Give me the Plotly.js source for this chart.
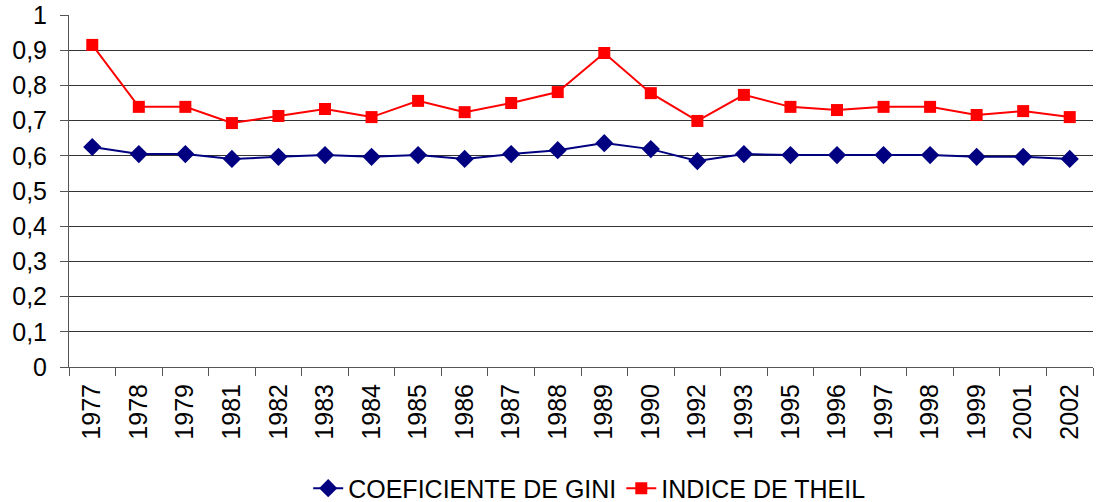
<!DOCTYPE html>
<html>
<head>
<meta charset="utf-8">
<script src="https://cdn.plot.ly/plotly-3.0.1.min.js"></script>
<style>html,body{margin:0;padding:0;background:#fff;}#chart{width:1098px;height:502px;}</style>
</head>
<body>
<div id="chart"></div>
<script>
var years = ["1977","1978","1979","1981","1982","1983","1984","1985","1986","1987","1988","1989","1990","1992","1993","1995","1996","1997","1998","1999","2001","2002"];
var gini = [0.625,0.605,0.605,0.591,0.597,0.602,0.597,0.602,0.591,0.605,0.616,0.636,0.619,0.585,0.605,0.602,0.602,0.602,0.602,0.597,0.597,0.591];
var theil = [0.915,0.739,0.739,0.693,0.713,0.733,0.710,0.756,0.724,0.750,0.781,0.892,0.778,0.699,0.773,0.739,0.730,0.739,0.739,0.716,0.727,0.710];
var yTicks = [0,0.1,0.2,0.3,0.4,0.5,0.6,0.7,0.8,0.9,1];

var traces = [
  {x: years, y: gini, type: "scatter", mode: "lines+markers", name: "COEFICIENTE DE GINI",
   line: {color: "#000080", width: 2}, marker: {symbol: "diamond", size: 14, color: "#000080"}},
  {x: years, y: theil, type: "scatter", mode: "lines+markers", name: "INDICE DE THEIL",
   line: {color: "#ff0000", width: 2}, marker: {symbol: "square", size: 12, color: "#ff0000"}}
];

var layout = {
  width: 1098, height: 502,
  margin: {l: 69, r: 5, t: 15, b: 135, autoexpand: false},
  paper_bgcolor: "#fff", plot_bgcolor: "#fff",
  separators: ",.",
  font: {family: "Liberation Sans, Arial, sans-serif", size: 25, color: "#000"},
  showlegend: true,
  legend: {orientation: "h", x: 0.508, xanchor: "center", y: -0.345, yanchor: "middle",
           font: {size: 25}, tracegroupgap: 0, bgcolor: "rgba(0,0,0,0)"},
  xaxis: {type: "category", tickangle: -90, tickson: "boundaries", ticks: "outside", ticklen: 8,
          tickcolor: "#555", showgrid: false, showline: true, linecolor: "#555", linewidth: 1,
          tickfont: {size: 25}, ticklabelstandoff: 6, range: [-0.5, years.length - 0.5],
          automargin: false, fixedrange: true},
  yaxis: {range: [0, 1], tickvals: yTicks, tickformat: ".1~f", ticks: "outside", ticklen: 8,
          tickcolor: "#555", showgrid: true, gridcolor: "#333", gridwidth: 1,
          showline: true, linecolor: "#555", linewidth: 1, zeroline: false,
          tickfont: {size: 25}, automargin: false, ticklabelstandoff: 8, fixedrange: true}
};

Plotly.newPlot("chart", traces, layout, {displayModeBar: false, staticPlot: true});
</script>
</body>
</html>
